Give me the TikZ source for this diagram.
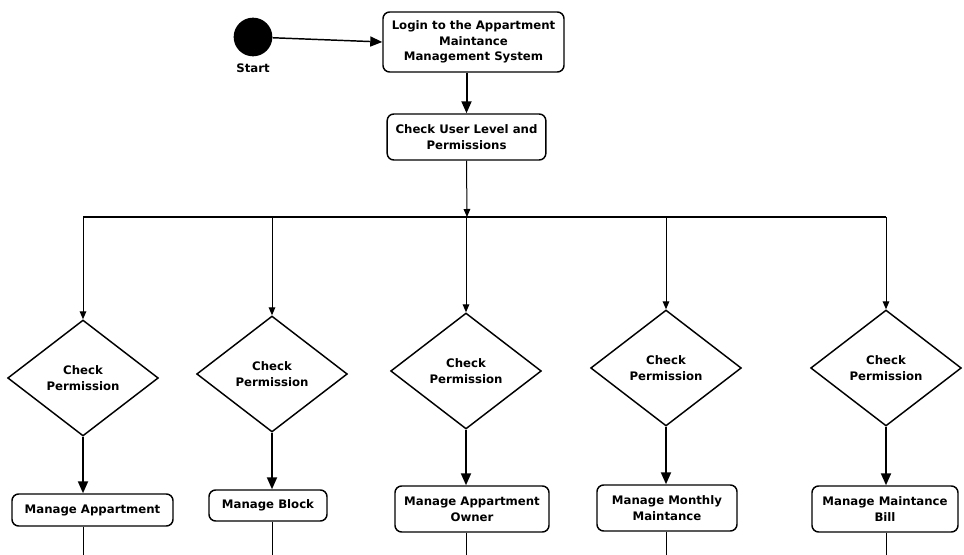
\documentclass[tikz,border=0pt]{standalone}
\usepackage{fontspec}
\setmainfont{DejaVu Sans}
\usetikzlibrary{shapes.geometric,arrows.meta}

\begin{document}
\begin{tikzpicture}[x=0.75pt,y=-0.75pt,
  every node/.style={font=\fontsize{8.8}{11.8}\selectfont\bfseries},
  act/.style={draw,rounded corners=5pt,line width=1.1pt,align=center,inner sep=2pt},
  dec/.style={draw,diamond,line width=1.1pt,align=center,inner sep=0pt,
    minimum width=113pt,minimum height=87pt},
  flow/.style={-{Triangle[length=9pt,width=7.5pt]},line width=1.5pt},
  fork/.style={-{Triangle[length=6pt,width=5pt]},line width=0.75pt}]
\useasboundingbox (0,0) rectangle (964,555);

% start and login
\node[circle,fill=black,minimum size=29pt,inner sep=0pt] (start) at (253,37) {};
\node (startlbl) at (253,68) {Start};
\node[act,minimum width=135.75pt,minimum height=45pt] (login) at (473.5,42)
  {Login to the Appartment\\Maintance\\Management System};
\node[act,minimum width=119pt,minimum height=34.5pt] (check) at (466.5,137)
  {Check User Level and\\Permissions};
\draw[flow,line width=1.1pt] (start) -- (login.west);
\draw[flow] (check.north |- login.south) -- (check.north);

% fork bar
\coordinate (fork) at (467,217);
\coordinate (forkL) at (83,217);
\coordinate (forkR) at (886,217);
\coordinate (bottom) at (0,555);
\draw[fork] (check.south) -- (fork);
\draw[line width=1.1pt] (forkL) -- (forkR);

% permission checks
\node[dec] (perm1) at (83,378) {Check\\Permission};
\node[dec] (perm2) at (272,374) {Check\\Permission};
\node[dec] (perm3) at (466,371) {Check\\Permission};
\node[dec] (perm4) at (666,368) {Check\\Permission};
\node[dec] (perm5) at (886,368) {Check\\Permission};

% manage activities
\node[act,minimum width=120.75pt,minimum height=24pt] (appt) at (92.5,510) {Manage Appartment};
\node[act,minimum width=88.5pt,minimum height=23.25pt] (block) at (268,505.5) {Manage Block};
\node[act,minimum width=115.5pt,minimum height=34.5pt] (owner) at (472,509) {Manage Appartment\\Owner};
\node[act,minimum width=105pt,minimum height=34.5pt] (monthly) at (667,508) {Manage Monthly\\Maintance};
\node[act,minimum width=109.5pt,minimum height=34.5pt] (bill) at (885,509) {Manage Maintance\\Bill};

\foreach \p/\b in {perm1/appt,perm2/block,perm3/owner,perm4/monthly,perm5/bill}{
  \draw[fork] (\p |- fork) -- (\p.north);
  \draw[flow] (\p.south) -- (\p.south |- \b.north);
  \draw[line width=0.75pt] (\p |- \b.south) -- (\p |- bottom);
}
\end{tikzpicture}
\end{document}
